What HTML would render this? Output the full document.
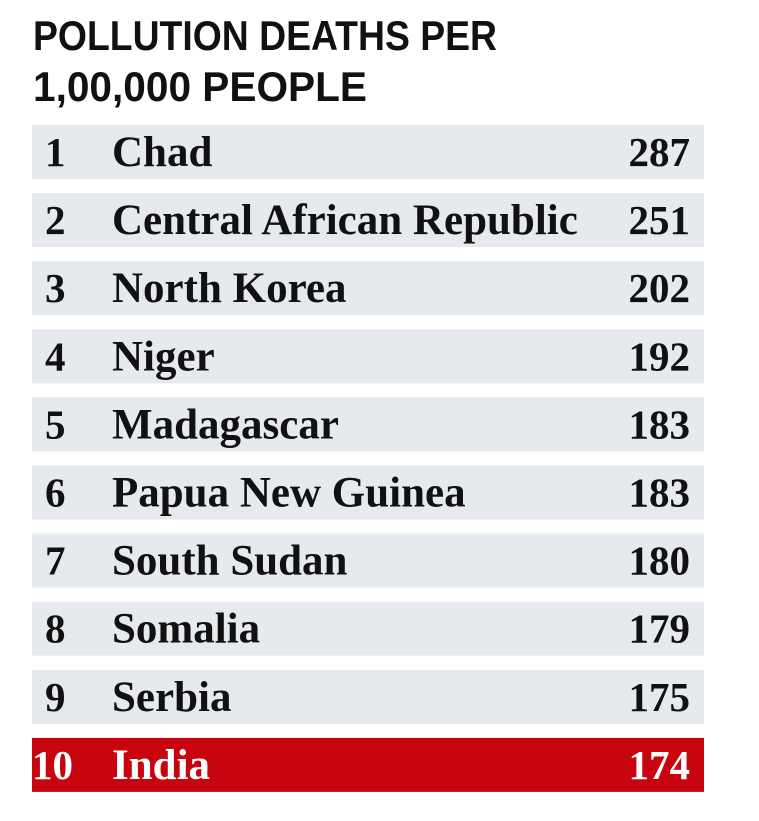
<!DOCTYPE html>
<html><head><meta charset="utf-8"><style>
html,body{margin:0;padding:0;background:#fff;}
svg{display:block;}
</style></head><body>
<svg width="759" height="821" xmlns="http://www.w3.org/2000/svg">
<text x="33" y="50" font-family="Liberation Sans, sans-serif" font-weight="bold" font-size="42" textLength="464" lengthAdjust="spacingAndGlyphs" fill="#111">POLLUTION DEATHS PER</text>
<text x="33" y="101" font-family="Liberation Sans, sans-serif" font-weight="bold" font-size="42" textLength="334" lengthAdjust="spacingAndGlyphs" fill="#111">1,00,000 PEOPLE</text>
<g id="rows"></g>
</svg>
<script>
const countries = ["Chad","Central African Republic","North Korea","Niger","Madagascar","Papua New Guinea","South Sudan","Somalia","Serbia","India"];
const values = [287,251,202,192,183,183,180,179,175,174];
const highlight = "India";
const ns = "http://www.w3.org/2000/svg";
const g = document.getElementById("rows");
const top0 = 125, step = 68.1, rowH = 54;
function mk(tag, attrs){const e=document.createElementNS(ns,tag);for(const k in attrs)e.setAttribute(k,attrs[k]);return e;}
countries.forEach((c,i)=>{
  const y = top0 + i*step;
  const hl = c===highlight;
  const row = mk("g",{});
  
  
  const r = mk("rect",{x:32,y:y,width:672,height:rowH,fill:hl?"#c8040f":"#e6eaee"});
  
  
  row.appendChild(r);
  const fill = hl?"#fff":"#111";
  const base = y+41;
  const rk = mk("text",{x:hl?32:45,y:base,"font-family":"Liberation Serif, serif","font-weight":"bold","font-size":"41",fill:fill});
  rk.textContent = String(i+1);
  
  
  row.appendChild(rk);
  const nm = mk("text",{x:112,y:base,"font-family":"Liberation Serif, serif","font-weight":"bold","font-size":"43",fill:fill});
  nm.textContent = c;
  
  
  row.appendChild(nm);
  const v = mk("text",{x:690,y:base,"text-anchor":"end","font-family":"Liberation Serif, serif","font-weight":"bold","font-size":"41",fill:fill});
  v.textContent = String(values[i]);
  
  
  row.appendChild(v);
  g.appendChild(row);
});
</script>
</body></html>
